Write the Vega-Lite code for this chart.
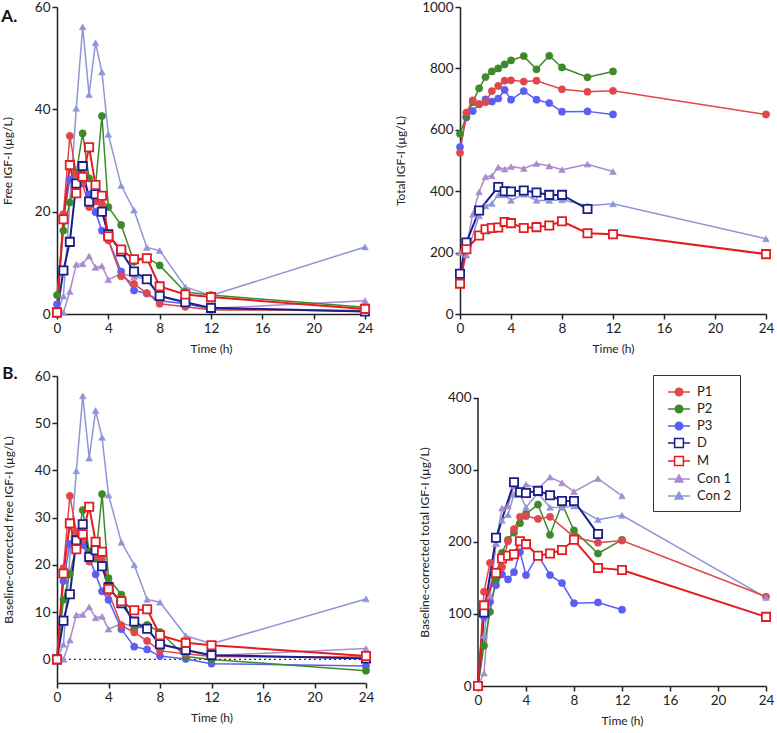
{
"$schema":"https://vega.github.io/schema/vega-lite/v6.json",
"padding":{"left":1,"top":0,"right":2,"bottom":2},
"background":"white",
"datasets":{
"A":[
{"s":"Con 2","t":0,"v":0.3},{"s":"Con 2","t":0.5,"v":3.5},{"s":"Con 2","t":1.5,"v":40.2},{"s":"Con 2","t":2,"v":56.1},{"s":"Con 2","t":2.5,"v":42.9},{"s":"Con 2","t":3,"v":53},{"s":"Con 2","t":3.5,"v":47.3},{"s":"Con 2","t":4,"v":35.1},{"s":"Con 2","t":5,"v":25.1},{"s":"Con 2","t":6,"v":20.3},{"s":"Con 2","t":7,"v":13},{"s":"Con 2","t":8,"v":12.4},{"s":"Con 2","t":10,"v":5.3},{"s":"Con 2","t":12,"v":3.6},{"s":"Con 2","t":24,"v":13.1},
{"s":"Con 1","t":0,"v":0},{"s":"Con 1","t":0.5,"v":0.3},{"s":"Con 1","t":1,"v":4.4},{"s":"Con 1","t":1.5,"v":9.7},{"s":"Con 1","t":2,"v":9.8},{"s":"Con 1","t":2.5,"v":11.3},{"s":"Con 1","t":3,"v":9.1},{"s":"Con 1","t":3.5,"v":9.4},{"s":"Con 1","t":4,"v":6.7},{"s":"Con 1","t":5,"v":7.9},{"s":"Con 1","t":6,"v":7.3},{"s":"Con 1","t":7,"v":6.8},{"s":"Con 1","t":8,"v":3.6},{"s":"Con 1","t":10,"v":2.2},{"s":"Con 1","t":12,"v":1.1},{"s":"Con 1","t":24,"v":2.6},
{"s":"P3","t":0,"v":1.9},{"s":"P3","t":0.5,"v":18.5},{"s":"P3","t":1,"v":26.3},{"s":"P3","t":1.5,"v":27.5},{"s":"P3","t":2,"v":26.1},{"s":"P3","t":2.5,"v":23.4},{"s":"P3","t":3,"v":19.9},{"s":"P3","t":3.5,"v":16.3},{"s":"P3","t":4,"v":14.5},{"s":"P3","t":5,"v":8.3},{"s":"P3","t":6,"v":4.6},{"s":"P3","t":7,"v":4},{"s":"P3","t":8,"v":2.6},{"s":"P3","t":10,"v":2},{"s":"P3","t":12,"v":1},{"s":"P3","t":24,"v":0.5},
{"s":"P2","t":0,"v":3.7},{"s":"P2","t":0.5,"v":16.3},{"s":"P2","t":1,"v":21.8},{"s":"P2","t":1.5,"v":27.6},{"s":"P2","t":2,"v":35.3},{"s":"P2","t":2.5,"v":26.5},{"s":"P2","t":3,"v":25},{"s":"P2","t":3.5,"v":38.7},{"s":"P2","t":4,"v":20.9},{"s":"P2","t":5,"v":17.4},{"s":"P2","t":6,"v":10.2},{"s":"P2","t":7,"v":11},{"s":"P2","t":8,"v":9.5},{"s":"P2","t":10,"v":4.3},{"s":"P2","t":12,"v":3.7},{"s":"P2","t":24,"v":1.3},
{"s":"P1","t":0,"v":0.2},{"s":"P1","t":0.5,"v":19.5},{"s":"P1","t":1,"v":34.8},{"s":"P1","t":1.5,"v":27.3},{"s":"P1","t":2,"v":25.5},{"s":"P1","t":2.5,"v":20.9},{"s":"P1","t":3,"v":22},{"s":"P1","t":3.5,"v":21.5},{"s":"P1","t":4,"v":14.4},{"s":"P1","t":5,"v":7.4},{"s":"P1","t":6,"v":5.9},{"s":"P1","t":7,"v":4.1},{"s":"P1","t":8,"v":2},{"s":"P1","t":10,"v":1.4},{"s":"P1","t":12,"v":0.8},{"s":"P1","t":24,"v":0.7},
{"s":"D","t":0,"v":0.3},{"s":"D","t":0.5,"v":8.5},{"s":"D","t":1,"v":14.1},{"s":"D","t":1.5,"v":25.5},{"s":"D","t":2,"v":28.9},{"s":"D","t":2.5,"v":22},{"s":"D","t":3,"v":23.4},{"s":"D","t":3.5,"v":20},{"s":"D","t":4,"v":15.6},{"s":"D","t":5,"v":12.2},{"s":"D","t":6,"v":8.3},{"s":"D","t":7,"v":6.8},{"s":"D","t":8,"v":3.5},{"s":"D","t":10,"v":2.3},{"s":"D","t":12,"v":1.2},{"s":"D","t":24,"v":0.5},
{"s":"M","t":0,"v":0.3},{"s":"M","t":0.5,"v":18.5},{"s":"M","t":1,"v":29.1},{"s":"M","t":1.5,"v":23.6},{"s":"M","t":2,"v":26.8},{"s":"M","t":2.5,"v":32.6},{"s":"M","t":3,"v":25.2},{"s":"M","t":3.5,"v":23.1},{"s":"M","t":4,"v":15.2},{"s":"M","t":5,"v":12.6},{"s":"M","t":6,"v":10.7},{"s":"M","t":7,"v":10.9},{"s":"M","t":8,"v":5.4},{"s":"M","t":10,"v":3.8},{"s":"M","t":12,"v":3.3},{"s":"M","t":24,"v":1}
],
"B":[
{"s":"Con 2","t":0,"v":0},{"s":"Con 2","t":0.5,"v":3.2},{"s":"Con 2","t":1.5,"v":39.9},{"s":"Con 2","t":2,"v":55.8},{"s":"Con 2","t":2.5,"v":42.6},{"s":"Con 2","t":3,"v":52.7},{"s":"Con 2","t":3.5,"v":47},{"s":"Con 2","t":4,"v":34.8},{"s":"Con 2","t":5,"v":24.8},{"s":"Con 2","t":6,"v":20},{"s":"Con 2","t":7,"v":12.7},{"s":"Con 2","t":8,"v":12.1},{"s":"Con 2","t":10,"v":5},{"s":"Con 2","t":12,"v":3.3},{"s":"Con 2","t":24,"v":12.8},
{"s":"Con 1","t":0,"v":0},{"s":"Con 1","t":0.5,"v":0},{"s":"Con 1","t":1,"v":4.1},{"s":"Con 1","t":1.5,"v":9.4},{"s":"Con 1","t":2,"v":9.5},{"s":"Con 1","t":2.5,"v":11.1},{"s":"Con 1","t":3,"v":8.8},{"s":"Con 1","t":3.5,"v":9.1},{"s":"Con 1","t":4,"v":6.4},{"s":"Con 1","t":5,"v":7.6},{"s":"Con 1","t":6,"v":7},{"s":"Con 1","t":7,"v":6.5},{"s":"Con 1","t":8,"v":3.3},{"s":"Con 1","t":10,"v":1.9},{"s":"Con 1","t":12,"v":0.8},{"s":"Con 1","t":24,"v":2.3},
{"s":"P3","t":0,"v":0},{"s":"P3","t":0.5,"v":16.6},{"s":"P3","t":1,"v":24.4},{"s":"P3","t":1.5,"v":25.6},{"s":"P3","t":2,"v":24.2},{"s":"P3","t":2.5,"v":21.5},{"s":"P3","t":3,"v":18},{"s":"P3","t":3.5,"v":14.4},{"s":"P3","t":4,"v":12.6},{"s":"P3","t":5,"v":6.4},{"s":"P3","t":6,"v":2.7},{"s":"P3","t":7,"v":2.1},{"s":"P3","t":8,"v":0.7},{"s":"P3","t":10,"v":0.1},{"s":"P3","t":12,"v":-0.9},{"s":"P3","t":24,"v":-1.4},
{"s":"P2","t":0,"v":0},{"s":"P2","t":0.5,"v":12.6},{"s":"P2","t":1,"v":18.1},{"s":"P2","t":1.5,"v":23.9},{"s":"P2","t":2,"v":31.6},{"s":"P2","t":2.5,"v":22.8},{"s":"P2","t":3,"v":21.3},{"s":"P2","t":3.5,"v":35},{"s":"P2","t":4,"v":17.2},{"s":"P2","t":5,"v":13.7},{"s":"P2","t":6,"v":6.5},{"s":"P2","t":7,"v":7.3},{"s":"P2","t":8,"v":5.8},{"s":"P2","t":10,"v":0.6},{"s":"P2","t":12,"v":0},{"s":"P2","t":24,"v":-2.4},
{"s":"P1","t":0,"v":0},{"s":"P1","t":0.5,"v":19.3},{"s":"P1","t":1,"v":34.6},{"s":"P1","t":1.5,"v":27.1},{"s":"P1","t":2,"v":25.3},{"s":"P1","t":2.5,"v":20.7},{"s":"P1","t":3,"v":21.8},{"s":"P1","t":3.5,"v":21.3},{"s":"P1","t":4,"v":14.2},{"s":"P1","t":5,"v":7.2},{"s":"P1","t":6,"v":5.7},{"s":"P1","t":7,"v":3.9},{"s":"P1","t":8,"v":1.8},{"s":"P1","t":10,"v":1.2},{"s":"P1","t":12,"v":0.6},{"s":"P1","t":24,"v":0.5},
{"s":"D","t":0,"v":0},{"s":"D","t":0.5,"v":8.2},{"s":"D","t":1,"v":13.8},{"s":"D","t":1.5,"v":25.2},{"s":"D","t":2,"v":28.6},{"s":"D","t":2.5,"v":21.7},{"s":"D","t":3,"v":23.1},{"s":"D","t":3.5,"v":19.7},{"s":"D","t":4,"v":15.3},{"s":"D","t":5,"v":11.9},{"s":"D","t":6,"v":8},{"s":"D","t":7,"v":6.5},{"s":"D","t":8,"v":3.2},{"s":"D","t":10,"v":2},{"s":"D","t":12,"v":0.9},{"s":"D","t":24,"v":0.2},
{"s":"M","t":0,"v":0},{"s":"M","t":0.5,"v":18.2},{"s":"M","t":1,"v":28.8},{"s":"M","t":1.5,"v":23.3},{"s":"M","t":2,"v":26.5},{"s":"M","t":2.5,"v":32.3},{"s":"M","t":3,"v":24.9},{"s":"M","t":3.5,"v":22.8},{"s":"M","t":4,"v":14.9},{"s":"M","t":5,"v":12.3},{"s":"M","t":6,"v":10.4},{"s":"M","t":7,"v":10.6},{"s":"M","t":8,"v":5.1},{"s":"M","t":10,"v":3.5},{"s":"M","t":12,"v":3},{"s":"M","t":24,"v":0.7}
],
"T":[
{"s":"Con 2","t":0,"v":122},{"s":"Con 2","t":0.5,"v":192},{"s":"Con 2","t":1.5,"v":320},{"s":"Con 2","t":2,"v":352},{"s":"Con 2","t":2.5,"v":360},{"s":"Con 2","t":3,"v":388},{"s":"Con 2","t":3.5,"v":388},{"s":"Con 2","t":4,"v":370},{"s":"Con 2","t":5,"v":390},{"s":"Con 2","t":6,"v":370},{"s":"Con 2","t":7,"v":370},{"s":"Con 2","t":8,"v":372},{"s":"Con 2","t":10,"v":353},{"s":"Con 2","t":12,"v":359},{"s":"Con 2","t":24,"v":245},
{"s":"Con 1","t":0,"v":200},{"s":"Con 1","t":0.5,"v":218},{"s":"Con 1","t":1,"v":325},{"s":"Con 1","t":1.5,"v":398},{"s":"Con 1","t":2,"v":447},{"s":"Con 1","t":2.5,"v":450},{"s":"Con 1","t":3,"v":478},{"s":"Con 1","t":3.5,"v":472},{"s":"Con 1","t":4,"v":480},{"s":"Con 1","t":5,"v":474},{"s":"Con 1","t":6,"v":490},{"s":"Con 1","t":7,"v":482},{"s":"Con 1","t":8,"v":470},{"s":"Con 1","t":10,"v":488},{"s":"Con 1","t":12,"v":464},
{"s":"P3","t":0,"v":544},{"s":"P3","t":0.5,"v":640},{"s":"P3","t":1,"v":661},{"s":"P3","t":1.5,"v":684},{"s":"P3","t":2,"v":699},{"s":"P3","t":2.5,"v":692},{"s":"P3","t":3,"v":702},{"s":"P3","t":3.5,"v":730},{"s":"P3","t":4,"v":698},{"s":"P3","t":5,"v":726},{"s":"P3","t":6,"v":698},{"s":"P3","t":7,"v":687},{"s":"P3","t":8,"v":659},{"s":"P3","t":10,"v":660},{"s":"P3","t":12,"v":650},
{"s":"P2","t":0,"v":587},{"s":"P2","t":0.5,"v":643},{"s":"P2","t":1,"v":690},{"s":"P2","t":1.5,"v":735},{"s":"P2","t":2,"v":772},{"s":"P2","t":2.5,"v":790},{"s":"P2","t":3,"v":800},{"s":"P2","t":3.5,"v":813},{"s":"P2","t":4,"v":826},{"s":"P2","t":5,"v":840},{"s":"P2","t":6,"v":797},{"s":"P2","t":7,"v":841},{"s":"P2","t":8,"v":803},{"s":"P2","t":10,"v":771},{"s":"P2","t":12,"v":790},
{"s":"P1","t":0,"v":525},{"s":"P1","t":0.5,"v":656},{"s":"P1","t":1,"v":696},{"s":"P1","t":1.5,"v":683},{"s":"P1","t":2,"v":690},{"s":"P1","t":2.5,"v":726},{"s":"P1","t":3,"v":743},{"s":"P1","t":3.5,"v":760},{"s":"P1","t":4,"v":761},{"s":"P1","t":5,"v":757},{"s":"P1","t":6,"v":760},{"s":"P1","t":8,"v":732},{"s":"P1","t":10,"v":724},{"s":"P1","t":12,"v":727},{"s":"P1","t":24,"v":650},
{"s":"D","t":0,"v":131},{"s":"D","t":0.5,"v":233},{"s":"D","t":1.5,"v":337},{"s":"D","t":3,"v":414},{"s":"D","t":3.5,"v":400},{"s":"D","t":4,"v":399},{"s":"D","t":5,"v":402},{"s":"D","t":6,"v":396},{"s":"D","t":7,"v":388},{"s":"D","t":8,"v":388},{"s":"D","t":10,"v":342},
{"s":"M","t":0,"v":99},{"s":"M","t":0.5,"v":211},{"s":"M","t":1.5,"v":256},{"s":"M","t":2,"v":276},{"s":"M","t":2.5,"v":280},{"s":"M","t":3,"v":282},{"s":"M","t":3.5,"v":300},{"s":"M","t":4,"v":296},{"s":"M","t":5,"v":280},{"s":"M","t":6,"v":283},{"s":"M","t":7,"v":288},{"s":"M","t":8,"v":302},{"s":"M","t":10,"v":263},{"s":"M","t":12,"v":260},{"s":"M","t":24,"v":195}
],
"C":[
{"s":"Con 2","t":0,"v":0},{"s":"Con 2","t":0.5,"v":70},{"s":"Con 2","t":1.5,"v":198},{"s":"Con 2","t":2,"v":230},{"s":"Con 2","t":2.5,"v":238},{"s":"Con 2","t":3,"v":266},{"s":"Con 2","t":3.5,"v":266},{"s":"Con 2","t":4,"v":248},{"s":"Con 2","t":5,"v":268},{"s":"Con 2","t":6,"v":248},{"s":"Con 2","t":7,"v":248},{"s":"Con 2","t":8,"v":250},{"s":"Con 2","t":10,"v":231},{"s":"Con 2","t":12,"v":237},{"s":"Con 2","t":24,"v":123},
{"s":"Con 1","t":0,"v":0},{"s":"Con 1","t":0.5,"v":18},{"s":"Con 1","t":1,"v":125},{"s":"Con 1","t":1.5,"v":198},{"s":"Con 1","t":2,"v":247},{"s":"Con 1","t":2.5,"v":250},{"s":"Con 1","t":3,"v":278},{"s":"Con 1","t":3.5,"v":272},{"s":"Con 1","t":4,"v":280},{"s":"Con 1","t":5,"v":274},{"s":"Con 1","t":6,"v":290},{"s":"Con 1","t":7,"v":282},{"s":"Con 1","t":8,"v":270},{"s":"Con 1","t":10,"v":288},{"s":"Con 1","t":12,"v":264},
{"s":"P3","t":0,"v":0},{"s":"P3","t":0.5,"v":96},{"s":"P3","t":1,"v":117},{"s":"P3","t":1.5,"v":140},{"s":"P3","t":2,"v":155},{"s":"P3","t":2.5,"v":148},{"s":"P3","t":3,"v":158},{"s":"P3","t":3.5,"v":186},{"s":"P3","t":4,"v":154},{"s":"P3","t":5,"v":182},{"s":"P3","t":6,"v":154},{"s":"P3","t":7,"v":143},{"s":"P3","t":8,"v":115},{"s":"P3","t":10,"v":116},{"s":"P3","t":12,"v":106},
{"s":"P2","t":0,"v":0},{"s":"P2","t":0.5,"v":56},{"s":"P2","t":1,"v":103},{"s":"P2","t":1.5,"v":148},{"s":"P2","t":2,"v":185},{"s":"P2","t":2.5,"v":203},{"s":"P2","t":3,"v":213},{"s":"P2","t":3.5,"v":226},{"s":"P2","t":4,"v":239},{"s":"P2","t":5,"v":252},{"s":"P2","t":6,"v":210},{"s":"P2","t":7,"v":253},{"s":"P2","t":8,"v":216},{"s":"P2","t":10,"v":184},{"s":"P2","t":12,"v":203},
{"s":"P1","t":0,"v":0},{"s":"P1","t":0.5,"v":131},{"s":"P1","t":1,"v":171},{"s":"P1","t":1.5,"v":158},{"s":"P1","t":2,"v":165},{"s":"P1","t":2.5,"v":201},{"s":"P1","t":3,"v":218},{"s":"P1","t":3.5,"v":235},{"s":"P1","t":4,"v":236},{"s":"P1","t":5,"v":232},{"s":"P1","t":6,"v":235},{"s":"P1","t":8,"v":207},{"s":"P1","t":10,"v":199},{"s":"P1","t":12,"v":202},{"s":"P1","t":24,"v":124},
{"s":"D","t":0,"v":0},{"s":"D","t":0.5,"v":102},{"s":"D","t":1.5,"v":206},{"s":"D","t":3,"v":283},{"s":"D","t":3.5,"v":269},{"s":"D","t":4,"v":268},{"s":"D","t":5,"v":271},{"s":"D","t":6,"v":265},{"s":"D","t":7,"v":257},{"s":"D","t":8,"v":257},{"s":"D","t":10,"v":211},
{"s":"M","t":0,"v":0},{"s":"M","t":0.5,"v":112},{"s":"M","t":1.5,"v":157},{"s":"M","t":2,"v":177},{"s":"M","t":2.5,"v":181},{"s":"M","t":3,"v":183},{"s":"M","t":3.5,"v":201},{"s":"M","t":4,"v":197},{"s":"M","t":5,"v":181},{"s":"M","t":6,"v":184},{"s":"M","t":7,"v":189},{"s":"M","t":8,"v":203},{"s":"M","t":10,"v":164},{"s":"M","t":12,"v":161},{"s":"M","t":24,"v":96}
]
},
"spacing":10,
"resolve":{"scale":{"stroke":"independent","fill":"independent","shape":"independent"},"legend":{"stroke":"independent","fill":"independent","shape":"independent"}},
"vconcat":[
{"hconcat":[
{"width":308,"height":307,"data":{"name":"A"},
 "title":{"text":"A.","anchor":"start","frame":"bounds","offset":-26,"fontSize":17,"fontWeight":"bold","color":"#111"},
 "layer":[
  {"mark":{"type":"line"},"encoding":{
   "x":{"field":"t","type":"quantitative","scale":{"domain":[0,24],"nice":false},"axis":{"values":[0,4,8,12,16,20,24],"title":"Time (h)","titlePadding":9}},
   "y":{"field":"v","type":"quantitative","scale":{"domain":[0,60],"nice":false},"axis":{"values":[0,20,40,60],"title":"Free IGF-I (µg/L)","titlePadding":20}},
   "stroke":{"field":"s","type":"nominal","scale":{"domain":["P1","P2","P3","D","M","Con 1","Con 2"],"range":["#e0474c","#3e8a2a","#5a5ef2","#1b1f8a","#e31d22","#a98ccd","#8e95d8"]},"legend":null},
   "strokeWidth":{"condition":{"test":"datum.s==='D'||datum.s==='M'","value":2},"value":1.5}}},
  {"mark":{"type":"point","filled":true,"opacity":1},"encoding":{
   "x":{"field":"t","type":"quantitative"},
   "y":{"field":"v","type":"quantitative"},
   "stroke":{"field":"s","type":"nominal","legend":null},
   "fill":{"field":"s","type":"nominal","scale":{"domain":["P1","P2","P3","D","M","Con 1","Con 2"],"range":["#e0474c","#3e8a2a","#5a5ef2","#ffffff","#ffffff","#a98ccd","#8e95d8"]},"legend":null},
   "shape":{"field":"s","type":"nominal","scale":{"domain":["P1","P2","P3","D","M","Con 1","Con 2"],"range":["circle","circle","circle","square","square","triangle-up","triangle-up"]},"legend":null},
   "size":{"condition":[{"test":"datum.s==='D'||datum.s==='M'","value":68},{"test":"datum.s==='Con 1'||datum.s==='Con 2'","value":45}],"value":52},
   "strokeWidth":{"condition":{"test":"datum.s==='D'||datum.s==='M'","value":1.8},"value":0.6}}}
 ]},
{"width":306,"height":307,"data":{"name":"T"},
 "layer":[
  {"mark":{"type":"line"},"encoding":{
   "x":{"field":"t","type":"quantitative","scale":{"domain":[0,24],"nice":false},"axis":{"values":[0,4,8,12,16,20,24],"title":"Time (h)","titlePadding":9}},
   "y":{"field":"v","type":"quantitative","scale":{"domain":[0,1000],"nice":false},"axis":{"values":[0,200,400,600,800,1000],"format":"d","title":"Total IGF-I (µg/L)","titlePadding":14}},
   "stroke":{"field":"s","type":"nominal","scale":{"domain":["P1","P2","P3","D","M","Con 1","Con 2"],"range":["#e0474c","#3e8a2a","#5a5ef2","#1b1f8a","#e31d22","#a98ccd","#8e95d8"]},"legend":null},
   "strokeWidth":{"condition":{"test":"datum.s==='D'||datum.s==='M'","value":2},"value":1.5}}},
  {"mark":{"type":"point","filled":true,"opacity":1},"encoding":{
   "x":{"field":"t","type":"quantitative"},
   "y":{"field":"v","type":"quantitative"},
   "stroke":{"field":"s","type":"nominal","legend":null},
   "fill":{"field":"s","type":"nominal","scale":{"domain":["P1","P2","P3","D","M","Con 1","Con 2"],"range":["#e0474c","#3e8a2a","#5a5ef2","#ffffff","#ffffff","#a98ccd","#8e95d8"]},"legend":null},
   "shape":{"field":"s","type":"nominal","scale":{"domain":["P1","P2","P3","D","M","Con 1","Con 2"],"range":["circle","circle","circle","square","square","triangle-up","triangle-up"]},"legend":null},
   "size":{"condition":[{"test":"datum.s==='D'||datum.s==='M'","value":68},{"test":"datum.s==='Con 1'||datum.s==='Con 2'","value":45}],"value":52},
   "strokeWidth":{"condition":{"test":"datum.s==='D'||datum.s==='M'","value":1.8},"value":0.6}}}
 ]}
],"spacing":21,
"resolve":{"scale":{"stroke":"independent","fill":"independent","shape":"independent"},"legend":{"stroke":"independent","fill":"independent","shape":"independent"}}},
{"hconcat":[
{"width":309,"height":307,"data":{"name":"B"},
 "title":{"text":"B.","anchor":"start","frame":"bounds","offset":-14,"fontSize":17,"fontWeight":"bold","color":"#111"},
 "layer":[
  {"data":{"values":[{"ref":"zero"}]},"mark":{"type":"rule","color":"#333","strokeWidth":1.3,"strokeDash":[2,3]},"encoding":{"y":{"datum":0,"type":"quantitative"}}},
  {"mark":{"type":"line"},"encoding":{
   "x":{"field":"t","type":"quantitative","scale":{"domain":[0,24],"nice":false},"axis":{"values":[0,4,8,12,16,20,24],"title":"Time (h)","titlePadding":9}},
   "y":{"field":"v","type":"quantitative","scale":{"domain":[-5,60],"nice":false},"axis":{"values":[0,10,20,30,40,50,60],"title":"Baseline-corrected free IGF-I (µg/L)","titlePadding":19}},
   "stroke":{"field":"s","type":"nominal","scale":{"domain":["P1","P2","P3","D","M","Con 1","Con 2"],"range":["#e0474c","#3e8a2a","#5a5ef2","#1b1f8a","#e31d22","#a98ccd","#8e95d8"]},"legend":null},
   "strokeWidth":{"condition":{"test":"datum.s==='D'||datum.s==='M'","value":2},"value":1.5}}},
  {"mark":{"type":"point","filled":true,"opacity":1},"encoding":{
   "x":{"field":"t","type":"quantitative"},
   "y":{"field":"v","type":"quantitative"},
   "stroke":{"field":"s","type":"nominal","legend":null},
   "fill":{"field":"s","type":"nominal","scale":{"domain":["P1","P2","P3","D","M","Con 1","Con 2"],"range":["#e0474c","#3e8a2a","#5a5ef2","#ffffff","#ffffff","#a98ccd","#8e95d8"]},"legend":null},
   "shape":{"field":"s","type":"nominal","scale":{"domain":["P1","P2","P3","D","M","Con 1","Con 2"],"range":["circle","circle","circle","square","square","triangle-up","triangle-up"]},"legend":null},
   "size":{"condition":[{"test":"datum.s==='D'||datum.s==='M'","value":68},{"test":"datum.s==='Con 1'||datum.s==='Con 2'","value":45}],"value":52},
   "strokeWidth":{"condition":{"test":"datum.s==='D'||datum.s==='M'","value":1.8},"value":0.6}}}
 ]},
{"width":288,"height":310,"data":{"name":"C"},
 "layer":[
  {"data":{"values":[{"ref":"axis"}]},"mark":{"type":"rule","color":"#222","strokeWidth":1.5},"encoding":{"x":{"datum":0,"type":"quantitative"},"y":{"datum":0,"type":"quantitative"},"y2":{"datum":400}}},
  {"mark":{"type":"line"},"encoding":{
   "x":{"field":"t","type":"quantitative","scale":{"domain":[0,24],"nice":false},"axis":{"values":[0,4,8,12,16,20,24],"title":"Time (h)","titlePadding":9}},
   "y":{"field":"v","type":"quantitative","scale":{"domain":[0,430.5],"nice":false},"axis":{"values":[0,100,200,300,400],"title":"Baseline-corrected total IGF-I (µg/L)","titlePadding":16,"domain":false,"titleY":166}},
   "stroke":{"field":"s","type":"nominal","scale":{"domain":["P1","P2","P3","D","M","Con 1","Con 2"],"range":["#e0474c","#3e8a2a","#5a5ef2","#1b1f8a","#e31d22","#a98ccd","#8e95d8"]}},
   "strokeWidth":{"condition":{"test":"datum.s==='D'||datum.s==='M'","value":2},"value":1.5}}},
  {"transform":[{"filter":{"field":"s","oneOf":["P1","P2","P3"]}}],
   "mark":{"type":"point","shape":"circle","filled":true,"opacity":1,"size":52,"strokeWidth":0.6},"encoding":{
   "x":{"field":"t","type":"quantitative"},
   "y":{"field":"v","type":"quantitative"},
   "stroke":{"field":"s","type":"nominal"},
   "fill":{"field":"s","type":"nominal"}}},
  {"transform":[{"filter":{"field":"s","oneOf":["Con 1","Con 2"]}}],
   "mark":{"type":"point","shape":"triangle-up","filled":true,"opacity":1,"size":45,"strokeWidth":0.6},"encoding":{
   "x":{"field":"t","type":"quantitative"},
   "y":{"field":"v","type":"quantitative"},
   "stroke":{"field":"s","type":"nominal"},
   "fill":{"field":"s","type":"nominal"}}},
  {"transform":[{"filter":{"field":"s","oneOf":["D","M"]}}],
   "mark":{"type":"point","shape":"square","filled":true,"fill":"#ffffff","opacity":1,"size":68,"strokeWidth":1.8},"encoding":{
   "x":{"field":"t","type":"quantitative"},
   "y":{"field":"v","type":"quantitative"},
   "stroke":{"field":"s","type":"nominal"}}},
  {"transform":[{"filter":"false"}],
   "mark":{"type":"point","filled":true,"opacity":1},"encoding":{
   "x":{"field":"t","type":"quantitative"},
   "y":{"field":"v","type":"quantitative"},
   "stroke":{"field":"s","type":"nominal","legend":{"title":null,"orient":"none","legendX":175,"legendY":-1,"padding":8,"strokeColor":"#333","fillColor":"#ffffff","symbolSize":256,"symbolStrokeWidth":1.5,"symbolOffset":9,"labelOffset":9,"labelFontSize":13,"labelColor":"#222","rowPadding":1}},
   "fill":{"field":"s","type":"nominal","scale":{"domain":["P1","P2","P3","D","M","Con 1","Con 2"],"range":["#e0474c","#3e8a2a","#5a5ef2","#ffffff","#ffffff","#a98ccd","#8e95d8"]},"legend":{"title":null,"orient":"none","legendX":175,"legendY":-1,"padding":8,"strokeColor":"#333","fillColor":"#ffffff","symbolSize":256,"symbolStrokeWidth":1.5,"symbolOffset":9,"labelOffset":9,"labelFontSize":13,"labelColor":"#222","rowPadding":1}},
   "shape":{"field":"s","type":"nominal","scale":{"domain":["P1","P2","P3","D","M","Con 1","Con 2"],"range":["M-1.375,0H1.375M0.47,0A0.47,0.47,0,1,1,-0.47,0A0.47,0.47,0,1,1,0.47,0Z","M-1.375,0H1.375M0.47,0A0.47,0.47,0,1,1,-0.47,0A0.47,0.47,0,1,1,0.47,0Z","M-1.375,0H1.375M0.47,0A0.47,0.47,0,1,1,-0.47,0A0.47,0.47,0,1,1,0.47,0Z","M-1.375,0H-0.55M0.55,0H1.375M-0.55,-0.55H0.55V0.55H-0.55Z","M-1.375,0H-0.55M0.55,0H1.375M-0.55,-0.55H0.55V0.55H-0.55Z","M-1.375,0H1.375M0,-0.5L0.5,0.385H-0.5Z","M-1.375,0H1.375M0,-0.5L0.5,0.385H-0.5Z"]},"legend":{"title":null,"orient":"none","legendX":175,"legendY":-1,"padding":8,"strokeColor":"#333","fillColor":"#ffffff","symbolSize":256,"symbolStrokeWidth":1.5,"symbolOffset":9,"labelOffset":9,"labelFontSize":13,"labelColor":"#222","rowPadding":1}}}}
 ]}
],"spacing":44,
"resolve":{"scale":{"stroke":"independent","fill":"independent","shape":"independent"},"legend":{"stroke":"independent","fill":"independent","shape":"independent"}}}
],
"config":{
 "font":"Lato",
 "view":{"stroke":null},
 "axis":{"grid":false,"domainColor":"#222","domainWidth":1.5,"tickColor":"#222","tickWidth":1.5,"tickSize":5,"labelFontSize":13.5,"labelColor":"#222","titleFontSize":12,"titleFontWeight":"normal","titleColor":"#222","labelPadding":2},
 "axisX":{"labelFlush":false}
}
}
